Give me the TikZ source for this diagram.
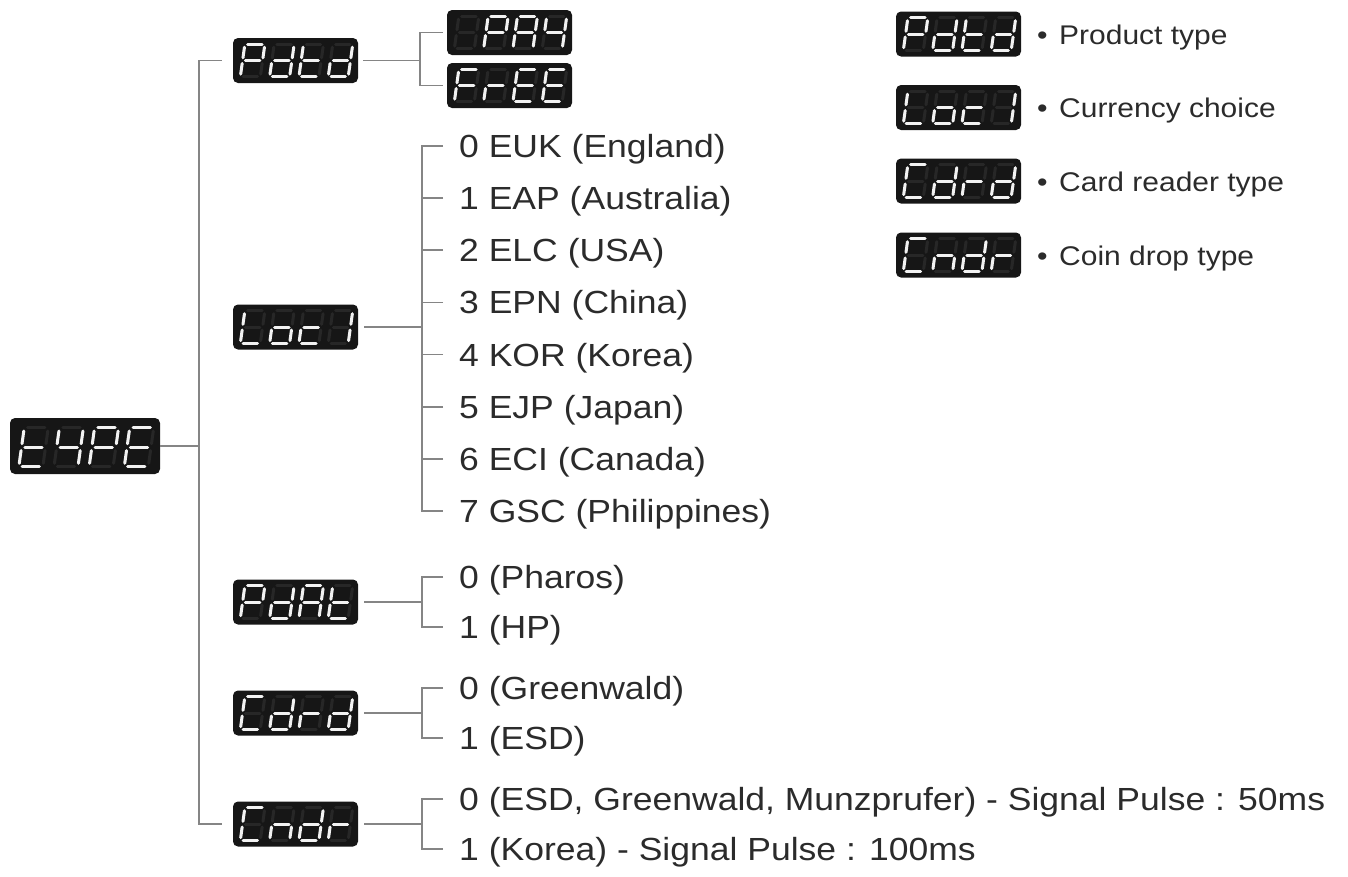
\documentclass[tikz,border=0pt]{standalone}
\usepackage{fontspec}
\setmainfont{Liberation Sans}[FakeStretch=1.11]
\usetikzlibrary{calc}
\definecolor{conncol}{HTML}{858585}
\definecolor{boxcol}{HTML}{161616}
\definecolor{ghostcol}{HTML}{272727}
\definecolor{segcol}{HTML}{F2F2F2}
\definecolor{txtcol}{HTML}{2B2B2B}
% segment letters -> which segments are lit
\def\chP{a,b,e,f,g}
\def\chd{b,c,d,e,g}
\def\cht{d,e,f,g}
\def\chA{a,b,c,e,f,g}
\def\chY{b,c,f,g}
\def\chF{a,e,f,g}
\def\chr{e,g}
\def\chE{a,d,e,f,g}
\def\chL{d,e,f}
\def\cho{c,d,e,g}
\def\chc{d,e,g}
\expandafter\def\csname ch1\endcsname{b,c}
\def\chC{a,d,e,f}
\def\chn{c,e,g}
\def\chZ{x}
\newcommand\drawseg[2]{%
  \if a#2\draw[#1] (2.8,-32.5) -- (17.2,-32.5);\fi
  \if b#2\draw[#1] (20,-29.7) -- (20,-19.1);\fi
  \if c#2\draw[#1] (20,-13.4) -- (20,-2.8);\fi
  \if d#2\draw[#1] (2.8,0) -- (17.2,0);\fi
  \if e#2\draw[#1] (0,-2.8) -- (0,-13.4);\fi
  \if f#2\draw[#1] (0,-19.1) -- (0,-29.7);\fi
  \if g#2\draw[#1] (2.8,-16.25) -- (17.2,-16.25);\fi
}
\newcommand\sseg[3]{%
  \begin{scope}[shift={(#1.south west)}, scale=#2]
  \foreach \dg [count=\di from 0] in {#3} {%
    \edef\seglist{\csname ch\dg\endcsname}%
    \begin{scope}[shift={(7.5+29.3*\di,-6.3)}, xslant=0.14]
      \foreach \sg in {a,b,c,d,e,f,g} {\drawseg{segoff}{\sg}}
      \foreach \sg in \seglist {\drawseg{segon}{\sg}}
    \end{scope}
  }
  \end{scope}}
\begin{document}
\begin{tikzpicture}[x=1pt,y=-1pt,
  disp/.style={fill=boxcol, rounded corners=5pt, inner sep=0pt, minimum width=125pt, minimum height=45pt},
  conn/.style={draw=conncol, line width=1.8pt},
  item/.style={anchor=base west, inner sep=0pt, font=\fontsize{32}{36}\selectfont, text=txtcol},
  legtxt/.style={anchor=base west, inner sep=0pt, font=\fontsize{27}{30}\selectfont, text=txtcol},
  segoff/.style={draw=ghostcol, line width=3pt, line cap=round},
  segon/.style={draw=segcol, line width=3pt, line cap=round}]
\useasboundingbox (0,0) rectangle (1348,876);

% displays
\node[disp, minimum width=150pt, minimum height=56pt] (tYPE) at (85,446) {};
\node[disp] (Pdtd) at (295.5,60.5) {};
\node[disp] (PAY) at (509.5,32.5) {};
\node[disp] (FrEE) at (509.5,85.5) {};
\node[disp] (Loc1) at (295.5,327) {};
\node[disp] (PdAt) at (295.5,602) {};
\node[disp] (Cdrd) at (295.5,713) {};
\node[disp] (Cndr) at (295.5,824) {};
\node[disp] (LPdtd) at (958.5,34) {};
\node[disp] (LLoc1) at (958.5,107.5) {};
\node[disp] (LCdrd) at (958.5,181) {};
\node[disp] (LCndr) at (958.5,255) {};

\sseg{tYPE}{1.2}{t,Y,P,E}
\sseg{Pdtd}{1}{P,d,t,d}
\sseg{PAY}{1}{Z,P,A,Y}
\sseg{FrEE}{1}{F,r,E,E}
\sseg{Loc1}{1}{L,o,c,1}
\sseg{PdAt}{1}{P,d,A,t}
\sseg{Cdrd}{1}{C,d,r,d}
\sseg{Cndr}{1}{C,n,d,r}
\sseg{LPdtd}{1}{P,d,t,d}
\sseg{LLoc1}{1}{L,o,c,1}
\sseg{LCdrd}{1}{C,d,r,d}
\sseg{LCndr}{1}{C,n,d,r}

% main trunk
\coordinate (tr) at (199,446);
\draw[conn] (tYPE.east) -- (tr);
\draw[conn, shorten <=11pt, shorten >=11pt] (Pdtd.west) -| (tr) |- (Cndr.west);

% Pdtd bracket
\coordinate (bPd) at (420,60.5);
\draw[conn, shorten <=5pt] (Pdtd.east) -- (bPd);
\draw[conn, shorten <=4pt, shorten >=4pt] (PAY.west) -| (bPd) |- (FrEE.west);

% Loc1 list
\coordinate (bLoc) at (422,327);
\draw[conn, shorten <=6pt] (Loc1.east) -- (bLoc);
\foreach \t [count=\i from 0] in {0 EUK (England), 1 EAP (Australia), 2 ELC (USA), 3 EPN (China), 4 KOR (Korea), 5 EJP (Japan), 6 ECI (Canada), 7 GSC (Philippines)} {
  \pgfmathsetmacro\ty{146+52.14*\i}
  \coordinate (k\i) at (443,\ty);
  \node[item] (l\i) at (459,\ty+11.5) {\t};
}
\draw[conn] (k0) -| (bLoc) |- (k7);
\foreach \i in {1,...,6} {\draw[conn] (k\i) -- (k\i -| bLoc);}

% PdAt
\coordinate (bPa) at (422,602);
\coordinate (pa0) at (443,577);
\coordinate (pa1) at (443,627);
\draw[conn, shorten <=6pt] (PdAt.east) -- (bPa);
\draw[conn] (pa0) -| (bPa) |- (pa1);
\node[item] (tpa0) at (459,588.5) {0 (Pharos)};
\node[item] (tpa1) at (459,638.5) {1 (HP)};

% Cdrd
\coordinate (bCd) at (422,713);
\coordinate (cd0) at (443,688);
\coordinate (cd1) at (443,738);
\draw[conn, shorten <=6pt] (Cdrd.east) -- (bCd);
\draw[conn] (cd0) -| (bCd) |- (cd1);
\node[item] (tcd0) at (459,699.5) {0 (Greenwald)};
\node[item] (tcd1) at (459,749.5) {1 (ESD)};

% Cndr
\coordinate (bCn) at (422,824);
\coordinate (cn0) at (443,799);
\coordinate (cn1) at (443,849);
\draw[conn, shorten <=6pt] (Cndr.east) -- (bCn);
\draw[conn] (cn0) -| (bCn) |- (cn1);
\node[item] (tcn0) at (459,810.5) {0 (ESD, Greenwald, Munzprufer) - Signal Pulse : 50ms};
\node[item] (tcn1) at (459,860.5) {1 (Korea) - Signal Pulse : 100ms};

% legend
\node[legtxt] (bul1) at (1037,44) {•};
\node[legtxt] (leg1) at (1059,44) {Product type};
\node[legtxt] (bul2) at (1037,117.5) {•};
\node[legtxt] (leg2) at (1059,117.5) {Currency choice};
\node[legtxt] (bul3) at (1037,191) {•};
\node[legtxt] (leg3) at (1059,191) {Card reader type};
\node[legtxt] (bul4) at (1037,265) {•};
\node[legtxt] (leg4) at (1059,265) {Coin drop type};
\end{tikzpicture}
\end{document}
